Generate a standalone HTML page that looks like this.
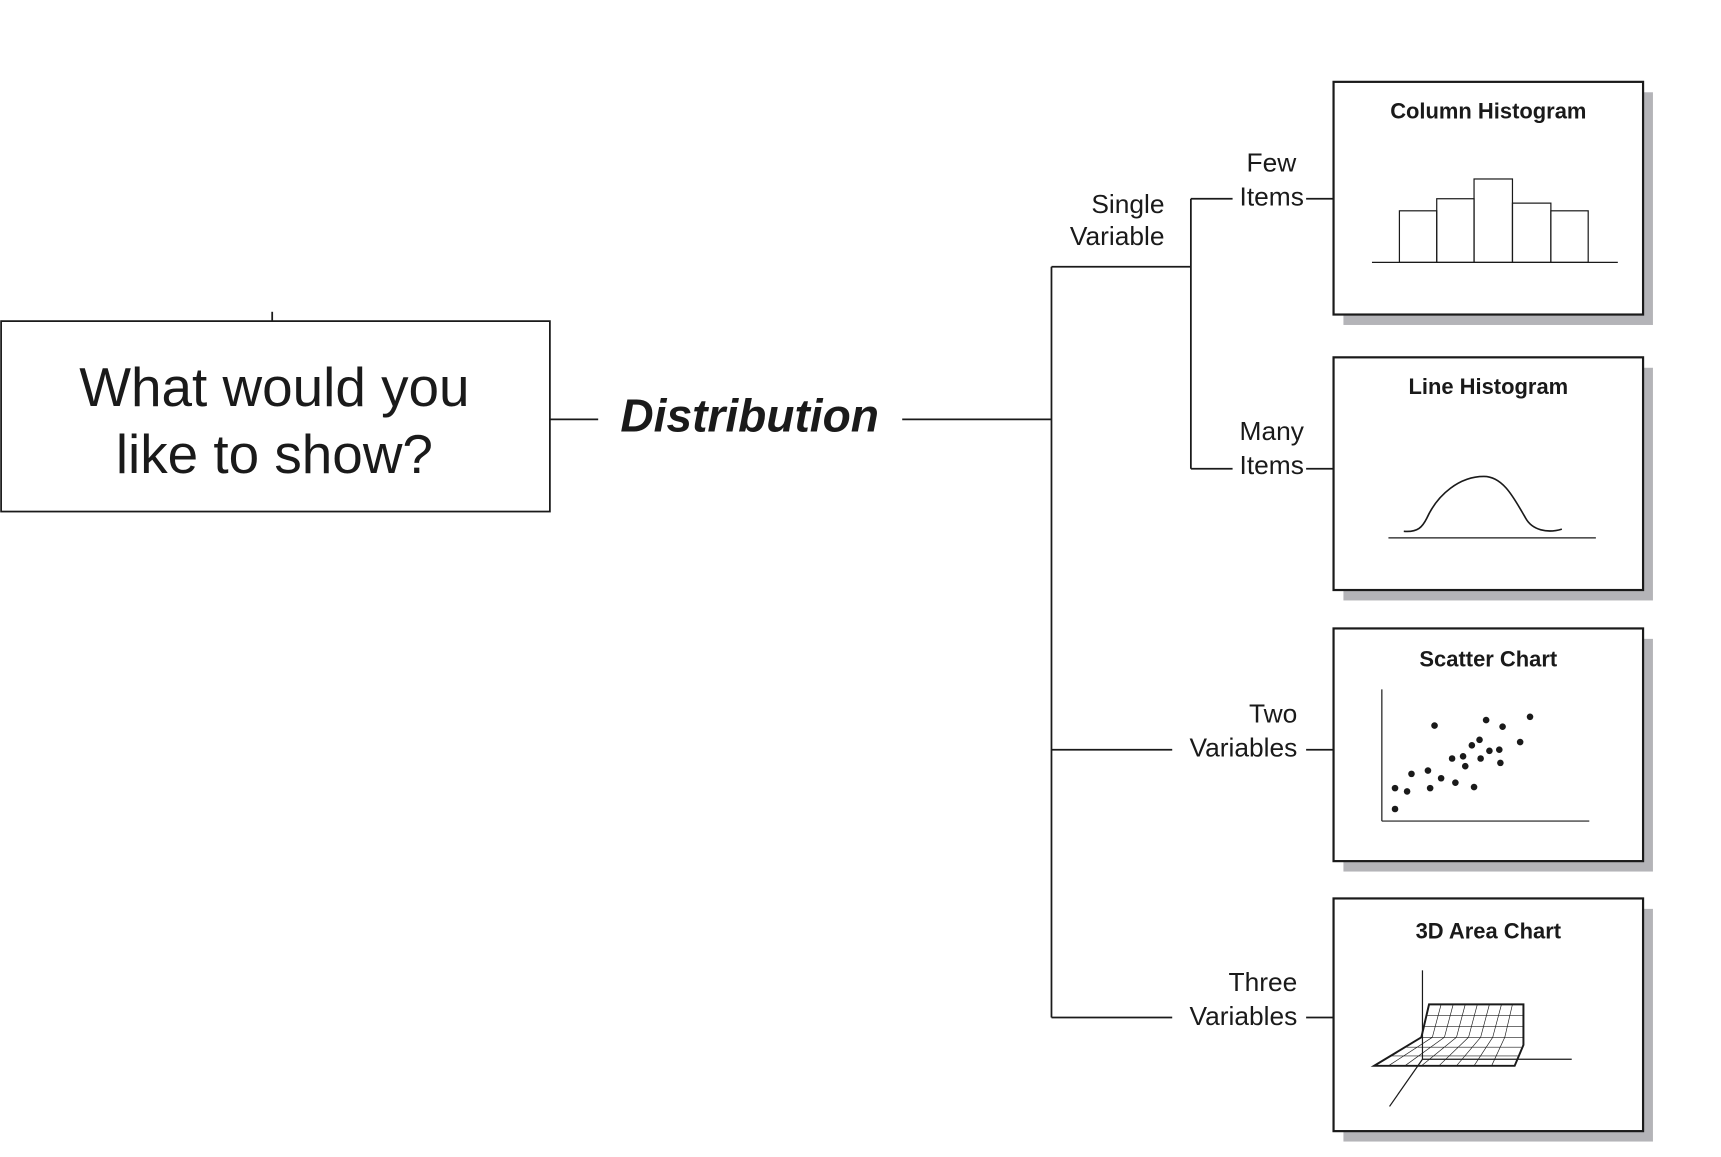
<!DOCTYPE html>
<html><head><meta charset="utf-8"><style>
html,body{margin:0;padding:0;background:#fff;}
svg{display:block;}
text{font-family:"Liberation Sans",Arial,sans-serif;fill:#1a1a1a;}
</style></head><body>
<svg width="1721" height="1157" viewBox="0 0 1568 1054" xmlns="http://www.w3.org/2000/svg">
<g stroke="#1a1a1a" fill="none" stroke-width="1.6">
<rect x="1" y="292.5" width="500" height="173.5" fill="#fff"/>
<line x1="248" y1="284" x2="248" y2="292"/>
<line x1="501" y1="382" x2="545" y2="382"/>
<line x1="822" y1="382" x2="958" y2="382"/>
<line x1="958" y1="243" x2="958" y2="927"/>
<line x1="958" y1="243" x2="1085" y2="243"/>
<line x1="1085" y1="181" x2="1085" y2="427"/>
<line x1="1085" y1="181" x2="1123" y2="181"/>
<line x1="1190" y1="181" x2="1215" y2="181"/>
<line x1="1085" y1="427" x2="1123" y2="427"/>
<line x1="1190" y1="427" x2="1215" y2="427"/>
<line x1="958" y1="683" x2="1068" y2="683"/>
<line x1="1190" y1="683" x2="1215" y2="683"/>
<line x1="958" y1="927" x2="1068" y2="927"/>
<line x1="1190" y1="927" x2="1215" y2="927"/>
</g>
<text x="250" y="370" font-size="50" text-anchor="middle">What would you</text>
<text x="250" y="431" font-size="50" text-anchor="middle">like to show?</text>
<text x="683" y="393" font-size="42" font-weight="bold" font-style="italic" text-anchor="middle">Distribution</text>
<g font-size="24" text-anchor="end">
<text x="1061" y="194">Single</text><text x="1061" y="223">Variable</text>
<text x="1181" y="156">Few</text><text x="1188" y="187">Items</text>
<text x="1188" y="401">Many</text><text x="1188" y="432">Items</text>
<text x="1182" y="658">Two</text><text x="1182" y="689">Variables</text>
<text x="1182" y="903">Three</text><text x="1182" y="934">Variables</text>
</g>
<g>
<rect x="1224" y="84" width="282" height="212" fill="#b4b4b8"/>
<rect x="1215" y="74.5" width="282" height="212" fill="#fff" stroke="#1a1a1a" stroke-width="2"/>
<rect x="1224" y="335" width="282" height="212" fill="#b4b4b8"/>
<rect x="1215" y="325.5" width="282" height="212" fill="#fff" stroke="#1a1a1a" stroke-width="2"/>
<rect x="1224" y="582" width="282" height="212" fill="#b4b4b8"/>
<rect x="1215" y="572.5" width="282" height="212" fill="#fff" stroke="#1a1a1a" stroke-width="2"/>
<rect x="1224" y="828" width="282" height="212" fill="#b4b4b8"/>
<rect x="1215" y="818.5" width="282" height="212" fill="#fff" stroke="#1a1a1a" stroke-width="2"/>
</g>
<g font-size="20" font-weight="bold" text-anchor="middle">
<text x="1356" y="108">Column Histogram</text>
<text x="1356" y="359">Line Histogram</text>
<text x="1356" y="607">Scatter Chart</text>
<text x="1356" y="855">3D Area Chart</text>
</g>
<g stroke="#1a1a1a" fill="none" stroke-width="1.1">
<line x1="1250" y1="239" x2="1474" y2="239"/>
<rect x="1275" y="192" width="34" height="47"/>
<rect x="1309" y="181" width="34" height="58"/>
<rect x="1343" y="163" width="35" height="76"/>
<rect x="1378" y="185" width="35" height="54"/>
<rect x="1413" y="192" width="34" height="47"/>
<line x1="1265" y1="490" x2="1454" y2="490"/>
<path d="M1279,484 C1292,485 1296,480 1300,472 C1310,450 1330,434 1352,434 C1370,434 1380,455 1390,472 C1396,483 1410,486 1423,482" stroke-width="1.5"/>
<line x1="1259" y1="628" x2="1259" y2="748"/>
<line x1="1259" y1="748" x2="1448" y2="748"/>
<line x1="1296" y1="884" x2="1296" y2="965"/>
<line x1="1296" y1="965" x2="1432" y2="965"/>
<line x1="1296" y1="965" x2="1266" y2="1008"/>
<path d="M1302,915 L1388,915 L1388,952 L1380,971 L1252,971 L1295,945 Z" stroke-width="1.8"/>
<g stroke-width="0.6">
<line x1="1295" y1="945" x2="1388" y2="945"/>
<line x1="1297" y1="935" x2="1388" y2="935"/>
<line x1="1299" y1="925" x2="1388" y2="925"/>
<line x1="1280" y1="954" x2="1386" y2="954"/>
<line x1="1267" y1="962" x2="1383" y2="962"/>
<line x1="1313" y1="915" x2="1305" y2="945"/><line x1="1305" y1="945" x2="1265" y2="971"/>
<line x1="1324" y1="915" x2="1316" y2="945"/><line x1="1316" y1="945" x2="1280" y2="971"/>
<line x1="1335" y1="915" x2="1327" y2="945"/><line x1="1327" y1="945" x2="1295" y2="971"/>
<line x1="1346" y1="915" x2="1338" y2="945"/><line x1="1338" y1="945" x2="1311" y2="971"/>
<line x1="1357" y1="915" x2="1349" y2="945"/><line x1="1349" y1="945" x2="1327" y2="971"/>
<line x1="1368" y1="915" x2="1360" y2="945"/><line x1="1360" y1="945" x2="1343" y2="971"/>
<line x1="1378" y1="915" x2="1371" y2="945"/><line x1="1371" y1="945" x2="1359" y2="971"/>
</g>
</g>
<g fill="#1a1a1a">
<circle cx="1307" cy="661" r="3"/><circle cx="1354" cy="656" r="3"/><circle cx="1369" cy="662" r="3"/>
<circle cx="1394" cy="653" r="3"/><circle cx="1385" cy="676" r="3"/><circle cx="1341" cy="679" r="3"/>
<circle cx="1348" cy="674" r="3"/><circle cx="1357" cy="684" r="3"/><circle cx="1366" cy="683" r="3"/>
<circle cx="1333" cy="689" r="3"/><circle cx="1323" cy="691" r="3"/><circle cx="1335" cy="698" r="3"/>
<circle cx="1349" cy="691" r="3"/><circle cx="1367" cy="695" r="3"/><circle cx="1286" cy="705" r="3"/>
<circle cx="1301" cy="702" r="3"/><circle cx="1313" cy="709" r="3"/><circle cx="1326" cy="713" r="3"/>
<circle cx="1343" cy="717" r="3"/><circle cx="1303" cy="718" r="3"/><circle cx="1271" cy="718" r="3"/>
<circle cx="1282" cy="721" r="3"/><circle cx="1271" cy="737" r="3"/>
</g>
</svg>
</body></html>
